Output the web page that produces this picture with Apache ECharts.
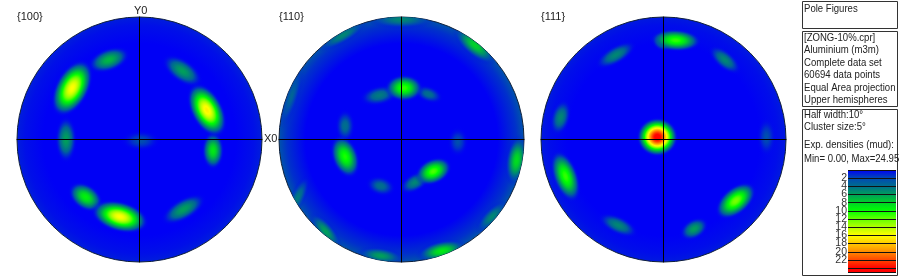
<!DOCTYPE html>
<html><head><meta charset="utf-8">
<script src="https://cdn.jsdelivr.net/npm/echarts@6/dist/echarts.min.js"></script>
<style>html,body{margin:0;padding:0;background:#fff}#c{width:900px;height:278px}</style>
</head><body><div id="c"></div>
<script>
// pole density peaks: [x, y, density, spreadMajor, spreadMinor, azimuthDeg]
const poles100 = [
 [-0.25,0.65,7,0.14,0.075,20],[-0.55,0.42,16,0.19,0.105,62],[0.35,0.56,6,0.15,0.075,-35],
 [0.60,-0.09,9,0.12,0.07,-90],[0.55,0.24,16.5,0.18,0.10,-62],[-0.60,0.0,6,0.15,0.07,90],
 [0.01,-0.01,3,0.13,0.07,0],[-0.44,-0.47,9.5,0.12,0.08,-35],[-0.16,-0.63,16,0.18,0.095,-15],[0.36,-0.57,6,0.16,0.07,30]
];
const poles110 = [
 [-0.18,0.36,4.5,0.13,0.065,12],[0.22,0.37,4,0.10,0.055,-20],[0.02,0.42,11,0.12,0.085,0],
 [-0.46,0.11,4,0.11,0.065,90],[-0.46,-0.14,10.5,0.14,0.085,-70],[-0.17,-0.38,4,0.10,0.065,-15],
 [0.11,-0.35,5,0.11,0.06,30],[0.26,-0.26,11.5,0.12,0.08,25],[0.46,-0.02,3,0.10,0.07,90],
 [0.60,0.77,8,0.17,0.07,-40],[0.94,-0.17,8.5,0.16,0.07,82],[0.33,-0.91,9,0.16,0.065,12],
 [-0.17,-0.95,6,0.15,0.055,-8],[0.74,-0.63,5,0.14,0.055,45],[-0.62,-0.75,6,0.15,0.055,-50],
 [-0.85,-0.48,4.5,0.16,0.05,65],[0.0,0.98,5,0.22,0.06,0],[-0.48,0.85,5,0.18,0.05,30],[-0.90,0.35,3.5,0.22,0.05,72]
];
const poles111 = [
 [0.0,0.80,7,0.07,0.06,0],[0.10,0.81,11,0.16,0.07,-3],[0.50,0.65,5,0.13,0.06,-40],[-0.39,0.69,5,0.15,0.06,30],
 [-0.84,0.18,5,0.12,0.065,75],[-0.80,-0.30,11,0.17,0.08,-70],[0.84,0.02,3,0.13,0.065,90],
 [0.25,-0.73,6,0.10,0.065,30],[0.59,-0.50,12.5,0.15,0.085,40],[-0.37,-0.70,5,0.14,0.06,-25],
 [-0.05,0.02,24.8,0.125,0.118,0]
];
const rimDensity = [0.8, 2.6, 0.7];
const figureNames = ['{100}', '{110}', '{111}'];
const poleSets = [poles100, poles110, poles111];
const gridLefts = [17, 279, 541];
const densityTicks = [0,2,4,6,8,10,12,14,16,18,20,22,24];
const rampColors = ['#0000f5','#004ab4','#006e8c','#009f5a','#00d228','#00ff00','#64ff00','#b4ff00','#ffff00','#ffc800','#ff8c00','#ff4600','#ff0000'];
const maxDensity = 24.95;
const infoLines = ['[ZONG-10%.cpr]','Aluminium (m3m)','Complete data set','60694 data points','Equal Area projection','Upper hemispheres'];
const paramLines = ['Half width:10°','Cluster size:5°'];
const densityLines = ['Exp. densities (mud):','Min= 0.00, Max=24.95'];

function hex(c){return [1,3,5].map(i=>parseInt(c.substr(i,2),16));}
function ramp(d,a){
  const s=Math.max(0,Math.min(d/2,rampColors.length-1.001)),i=Math.floor(s),f=s-i;
  const p=hex(rampColors[i]),q=hex(rampColors[i+1]);
  const m=p.map((v,k)=>Math.round(v+(q[k]-v)*f));
  return 'rgba('+m[0]+','+m[1]+','+m[2]+','+a+')';
}
function blobStops(peak){
  const out=[];
  for(let i=0;i<=24;i++){
    const t=i/24,d=peak*Math.pow(1-t*t,2.2);
    out.push({offset:t,color:ramp(Math.max(d,0),Math.min(1,d/3.5))});
  }
  return out;
}
const SOFT=1.45;
function blobItem(params,api){
  const p=api.coord([api.value(0),api.value(1)]);
  const u=api.size([1,1])[0];
  const ctr=api.coord([0,0]);
  return {type:'group',clipPath:{type:'circle',shape:{cx:ctr[0],cy:ctr[1],r:u}},children:[{
    type:'circle',x:p[0],y:p[1],rotation:api.value(5)*Math.PI/180,
    scaleX:SOFT*api.value(3)*u/100,scaleY:SOFT*api.value(4)*u/100,
    shape:{cx:0,cy:0,r:100},
    style:{fill:{type:'radial',x:0.5,y:0.5,r:0.5,colorStops:blobStops(api.value(2))}}
  }]};
}
function discItem(params,api){
  const c=api.coord([api.value(0),api.value(1)]),u=api.size([1,1])[0],rim=api.value(2);
  return {type:'circle',shape:{cx:c[0],cy:c[1],r:u},style:{
    fill:{type:'radial',x:0.5,y:0.5,r:0.5,colorStops:[
      {offset:0,color:ramp(0,1)},{offset:0.78,color:ramp(0,1)},{offset:0.93,color:ramp(rim*0.5,1)},{offset:1,color:ramp(rim,1)}]},
    stroke:'#10203a',lineWidth:1}};
}
const grid=[],xAxis=[],yAxis=[],series=[];
poleSets.forEach((set,i)=>{
  grid.push({left:gridLefts[i],top:17,width:245,height:245});
  const axis={type:'value',min:-1,max:1,z:5,splitLine:{show:false},axisTick:{show:false},axisLabel:{show:false},
    axisLine:{show:true,onZero:true,lineStyle:{color:'#000',width:1}}};
  xAxis.push(Object.assign({gridIndex:i},axis));
  yAxis.push(Object.assign({gridIndex:i},axis));
  series.push({type:'custom',xAxisIndex:i,yAxisIndex:i,z:1,silent:true,clip:false,renderItem:discItem,data:[[0,0,rimDensity[i]]],encode:{x:0,y:1}});
  series.push({type:'custom',xAxisIndex:i,yAxisIndex:i,z:2,silent:true,clip:false,renderItem:blobItem,data:set,encode:{x:0,y:1}});
});
// density scale
grid.push({left:848,top:170,width:48,height:102});
xAxis.push({gridIndex:3,type:'category',data:['density'],show:false});
yAxis.push({gridIndex:3,type:'value',inverse:true,min:0,max:maxDensity,interval:2,z:5,splitLine:{show:false},
  axisLine:{show:false},
  axisTick:{show:true,inside:true,length:48,lineStyle:{color:'#111',width:1}},
  axisLabel:{margin:1,fontFamily:'Liberation Sans',fontSize:10.5,color:'#333',
    formatter:v=>(v===0||v===24||v===maxDensity)?'':String(v)}});
series.push({type:'bar',xAxisIndex:3,yAxisIndex:3,silent:true,barWidth:'100%',data:[maxDensity],
  itemStyle:{color:{type:'linear',x:0,y:0,x2:0,y2:1,colorStops:densityTicks.map((d,k)=>({offset:d/maxDensity,color:rampColors[k]}))}}});

const font='11px "Liberation Sans"';
function txt(x,y,s,sx){return {type:'text',x:x,y:y,z:10,silent:true,scaleX:sx||0.87,style:{text:s,font:font,fill:'#222',textVerticalAlign:'middle'}};}
function box(x,y,w,h){return {type:'rect',z:-1,silent:true,shape:{x:x+.5,y:y+.5,width:w,height:h},style:{fill:'#fff',stroke:'#333',lineWidth:1}};}
const graphic=[box(802,1,95,27),box(802,31,95,75),box(802,109,95,166)];
graphic.push(txt(804,9,'Pole Figures'));
infoLines.forEach((s,i)=>graphic.push(txt(804,38+i*12.4,s)));
paramLines.forEach((s,i)=>graphic.push(txt(804,115+i*12.4,s)));
densityLines.forEach((s,i)=>graphic.push(txt(804,145+i*14,s)));
figureNames.forEach((s,i)=>graphic.push(txt(gridLefts[i],17,s,1)));
graphic.push(txt(134,11,'Y0',1),txt(264,139,'X0',1));

const chart=echarts.init(document.getElementById('c'),null,{renderer:'canvas'});
chart.setOption({animation:false,backgroundColor:'#fff',grid,xAxis,yAxis,series,graphic:{elements:graphic}});
</script></body></html>
